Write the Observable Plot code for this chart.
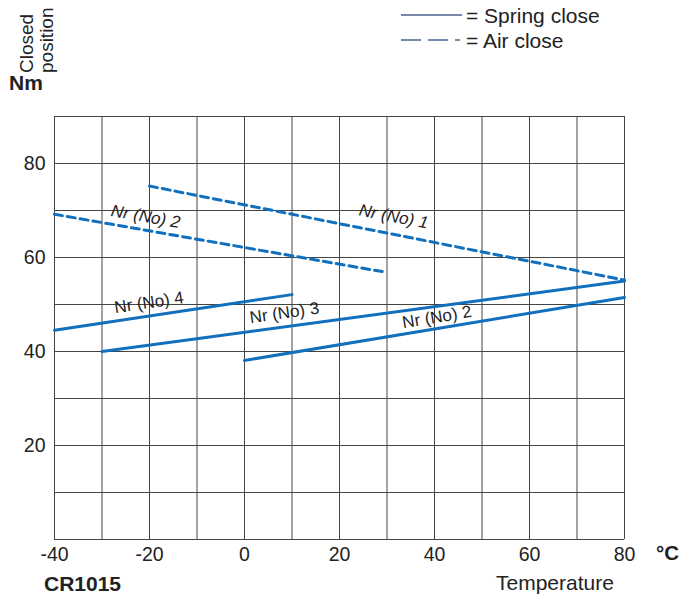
<!DOCTYPE html>
<html><head><meta charset="utf-8">
<script src="https://cdn.jsdelivr.net/npm/d3@7"></script>
<script src="https://cdn.jsdelivr.net/npm/@observablehq/plot@0.6"></script>
<style>
html,body{margin:0;padding:0;background:#fff;}
#wrap{position:relative;width:694px;height:599px;font-family:"Liberation Sans",Arial,sans-serif;color:#222;}
.t{position:absolute;white-space:nowrap;line-height:1;}
</style></head><body>
<div id="wrap"></div>
<script>
// Data (°C, Nm)
const springClose = [
  {name:"Nr (No) 4", pts:[[-40,44.5],[10,52.1]]},
  {name:"Nr (No) 3", pts:[[-30,40],[80,55]]},
  {name:"Nr (No) 2", pts:[[0,38.1],[80,51.5]]}
];
const airClose = [
  {name:"Nr (No) 1", pts:[[-20,75.2],[80,55.2]]},
  {name:"Nr (No) 2", pts:[[-40,69.2],[29,57]]}
];
const airLabels = [
  {text:"Nr (No) 2", x:-20.8, y:68.7, rot:10},
  {text:"Nr (No) 1", x:31.4, y:68.7, rot:11}
];
const springLabels = [
  {text:"Nr (No) 4", x:-20.1, y:50.4, rot:-8.5},
  {text:"Nr (No) 3", x:8.4, y:48.2, rot:-8},
  {text:"Nr (No) 2", x:40.5, y:47.3, rot:-9.5}
];
const xTicks = [-40,-20,0,20,40,60,80];
const yTicks = [20,40,60,80];
const xGrid = d3.range(-40,81,10);
const yGrid = d3.range(0,91,10);

const flat = (arr) => arr.flatMap((s,i)=>s.pts.map(p=>({x:p[0],y:p[1],id:s.name+i})));
const blue = "#1170bd";

const plot = Plot.plot({
  width:694, height:599,
  marginLeft:54, marginRight:70, marginTop:116, marginBottom:60,
  x:{domain:[-40,80], axis:null},
  y:{domain:[0,90], axis:null},
  style:{fontFamily:"'Liberation Sans',Arial,sans-serif", background:"white"},
  marks:[
    Plot.ruleX(xGrid,{stroke:"#444", strokeWidth:1}),
    Plot.ruleY(yGrid,{stroke:"#444", strokeWidth:1}),
    Plot.line(flat(springClose),{x:"x",y:"y",z:"id",stroke:blue,strokeWidth:3}),
    Plot.line(flat(airClose),{x:"x",y:"y",z:"id",stroke:blue,strokeWidth:3,strokeDasharray:"8,5"}),
    Plot.text(airLabels,{x:"x",y:"y",text:"text",rotate:"rot",fontSize:17,fontStyle:"italic",fill:"#222"}),
    Plot.text(springLabels,{x:"x",y:"y",text:"text",rotate:"rot",fontSize:17,fill:"#222"}),
    Plot.text(yTicks,{x:-40,y:d=>d,text:d=>String(d),textAnchor:"end",dx:-9,fontSize:19.5,fill:"#222"}),
    Plot.text(xTicks,{x:d=>d,y:0,text:d=>String(d),dy:15,fontSize:19.5,fill:"#222"})
  ]
});
const wrap = document.getElementById("wrap");
wrap.appendChild(plot);

function addText(html, css){
  const d=document.createElement("div");d.className="t";d.innerHTML=html;Object.assign(d.style,css);wrap.appendChild(d);return d;
}
addText("Nm",{left:"9px",top:"72px",fontSize:"21px",fontWeight:"bold"});
addText("Closed<br>position",{left:"17px",top:"73px",fontSize:"19px",lineHeight:"20px",transform:"rotate(-90deg)",transformOrigin:"0 0"});
addText("°C",{left:"656px",top:"543px",fontSize:"20.5px",fontWeight:"bold"});
addText("CR1015",{left:"44px",top:"573px",fontSize:"21px",fontWeight:"bold"});
addText("Temperature",{left:"496px",top:"572px",fontSize:"21px"});
// legend
const leg = document.createElementNS("http://www.w3.org/2000/svg","svg");
leg.setAttribute("width","70");leg.setAttribute("height","50");
Object.assign(leg.style,{position:"absolute",left:"398px",top:"0px"});
leg.innerHTML = '<line x1="3" x2="64" y1="15" y2="15" stroke="#4a6290" stroke-width="1.4"/>'+
 '<line x1="3" x2="63" y1="40" y2="40" stroke="#4a6290" stroke-width="1.4" stroke-dasharray="20,7,20,7,5,100"/>';
wrap.appendChild(leg);
addText("= Spring close",{left:"466px",top:"5px",fontSize:"21px"});
addText("= Air close",{left:"466px",top:"30px",fontSize:"21px"});
</script>
</body></html>
